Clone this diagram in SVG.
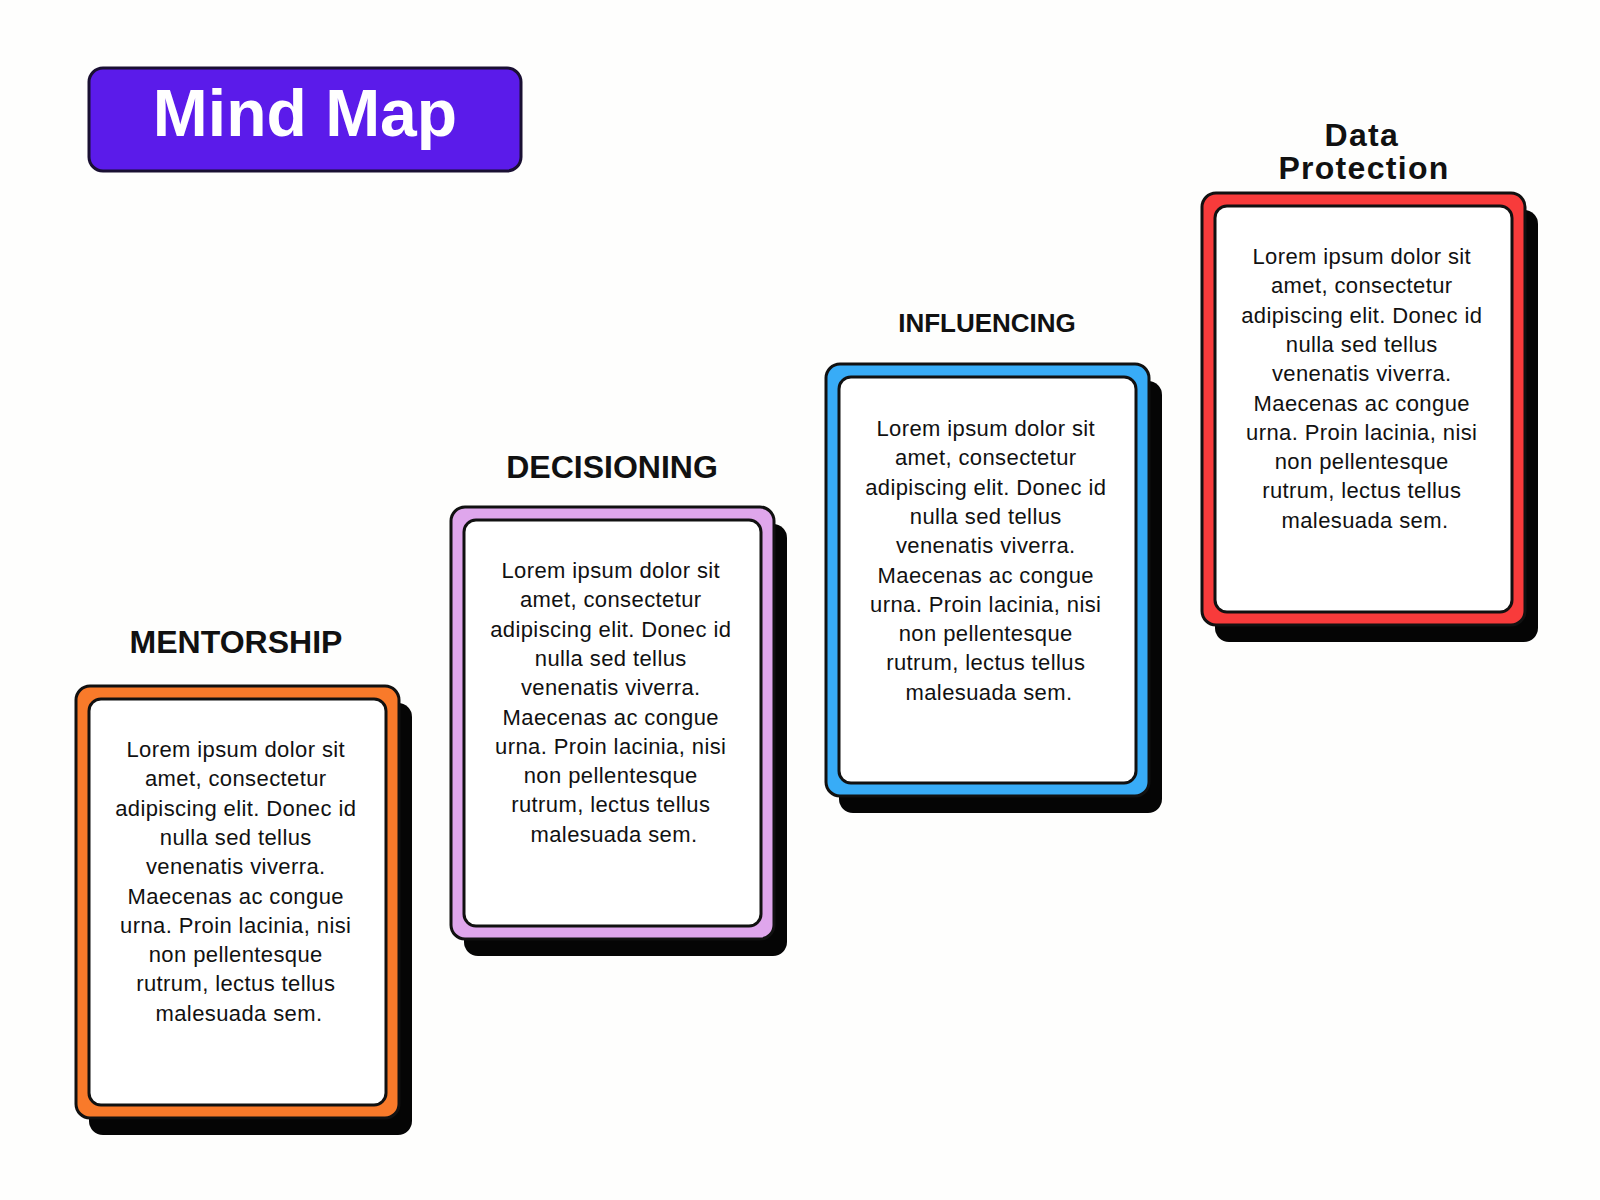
<svg xmlns="http://www.w3.org/2000/svg" width="1600" height="1200" viewBox="0 0 1600 1200">
  <style>
    .head { font-family: "Liberation Sans", Arial, sans-serif; font-weight: bold; fill: #111111; text-anchor: middle; }
    .body { font-family: "Liberation Sans", Arial, sans-serif; font-size: 22px; letter-spacing: 0.4px; fill: #111111; text-anchor: middle; }
    .shadow { fill: #050505; }
    .outer { stroke: #111111; stroke-width: 3; }
    .inner { fill: #FFFFFF; stroke: #111111; stroke-width: 3; }
  </style>
  <rect width="1600" height="1200" fill="#FEFEFD"/>

  <g id="title">
    <rect x="89" y="68" width="432" height="103" rx="14" fill="#5B1BEA" stroke="#1A1033" stroke-width="3"/>
    <text x="305" y="136" class="head" style="font-size:66px; fill:#FFFFFF;">Mind Map</text>
  </g>

  <g id="connectors"></g>

  <g id="mentorship">
    <text x="236" y="653" class="head" style="font-size:32px;">MENTORSHIP</text>
    <rect class="shadow" x="89" y="703" width="323" height="432" rx="14"/>
    <rect class="outer" x="76" y="686" width="323" height="432" rx="14" fill="#F97A2A"/>
    <rect class="inner" x="89" y="699" width="297" height="406" rx="12"/>
    <text class="body" x="239" y="757">
      <tspan x="239">Lorem ipsum dolor sit</tspan>
      <tspan x="239" dy="29.3">amet, consectetur</tspan>
      <tspan x="239" dy="29.3">adipiscing elit. Donec id</tspan>
      <tspan x="239" dy="29.3">nulla sed tellus</tspan>
      <tspan x="239" dy="29.3">venenatis viverra.</tspan>
      <tspan x="239" dy="29.3">Maecenas ac congue</tspan>
      <tspan x="239" dy="29.3">urna. Proin lacinia, nisi</tspan>
      <tspan x="239" dy="29.3">non pellentesque</tspan>
      <tspan x="239" dy="29.3">rutrum, lectus tellus</tspan>
      <tspan x="239" dy="29.3">malesuada sem.</tspan>
    </text>
  </g>

  <g id="decisioning">
    <text x="612" y="478" class="head" style="font-size:32px;">DECISIONING</text>
    <rect class="shadow" x="464" y="524" width="323" height="432" rx="14"/>
    <rect class="outer" x="451" y="507" width="323" height="432" rx="14" fill="#DFA6EC"/>
    <rect class="inner" x="464" y="520" width="297" height="406" rx="12"/>
    <text class="body" x="614" y="578">
      <tspan x="614">Lorem ipsum dolor sit</tspan>
      <tspan x="614" dy="29.3">amet, consectetur</tspan>
      <tspan x="614" dy="29.3">adipiscing elit. Donec id</tspan>
      <tspan x="614" dy="29.3">nulla sed tellus</tspan>
      <tspan x="614" dy="29.3">venenatis viverra.</tspan>
      <tspan x="614" dy="29.3">Maecenas ac congue</tspan>
      <tspan x="614" dy="29.3">urna. Proin lacinia, nisi</tspan>
      <tspan x="614" dy="29.3">non pellentesque</tspan>
      <tspan x="614" dy="29.3">rutrum, lectus tellus</tspan>
      <tspan x="614" dy="29.3">malesuada sem.</tspan>
    </text>
  </g>

  <g id="influencing">
    <text x="987" y="332" class="head" style="font-size:26px;">INFLUENCING</text>
    <rect class="shadow" x="839" y="381" width="323" height="432" rx="14"/>
    <rect class="outer" x="826" y="364" width="323" height="432" rx="14" fill="#38ACF7"/>
    <rect class="inner" x="839" y="377" width="297" height="406" rx="12"/>
    <text class="body" x="989" y="436">
      <tspan x="989">Lorem ipsum dolor sit</tspan>
      <tspan x="989" dy="29.3">amet, consectetur</tspan>
      <tspan x="989" dy="29.3">adipiscing elit. Donec id</tspan>
      <tspan x="989" dy="29.3">nulla sed tellus</tspan>
      <tspan x="989" dy="29.3">venenatis viverra.</tspan>
      <tspan x="989" dy="29.3">Maecenas ac congue</tspan>
      <tspan x="989" dy="29.3">urna. Proin lacinia, nisi</tspan>
      <tspan x="989" dy="29.3">non pellentesque</tspan>
      <tspan x="989" dy="29.3">rutrum, lectus tellus</tspan>
      <tspan x="989" dy="29.3">malesuada sem.</tspan>
    </text>
  </g>

  <g id="data-protection">
    <text class="head" style="font-size:32px; letter-spacing:1.3px;" x="1364" y="146">
      <tspan x="1367">Data</tspan>
      <tspan x="1364" dy="33">Protection</tspan>
    </text>
    <rect class="shadow" x="1215" y="210" width="323" height="432" rx="14"/>
    <rect class="outer" x="1202" y="193" width="323" height="432" rx="14" fill="#F83B3B"/>
    <rect class="inner" x="1215" y="206" width="297" height="406" rx="12"/>
    <text class="body" x="1365" y="264">
      <tspan x="1365">Lorem ipsum dolor sit</tspan>
      <tspan x="1365" dy="29.3">amet, consectetur</tspan>
      <tspan x="1365" dy="29.3">adipiscing elit. Donec id</tspan>
      <tspan x="1365" dy="29.3">nulla sed tellus</tspan>
      <tspan x="1365" dy="29.3">venenatis viverra.</tspan>
      <tspan x="1365" dy="29.3">Maecenas ac congue</tspan>
      <tspan x="1365" dy="29.3">urna. Proin lacinia, nisi</tspan>
      <tspan x="1365" dy="29.3">non pellentesque</tspan>
      <tspan x="1365" dy="29.3">rutrum, lectus tellus</tspan>
      <tspan x="1365" dy="29.3">malesuada sem.</tspan>
    </text>
  </g>
</svg>
